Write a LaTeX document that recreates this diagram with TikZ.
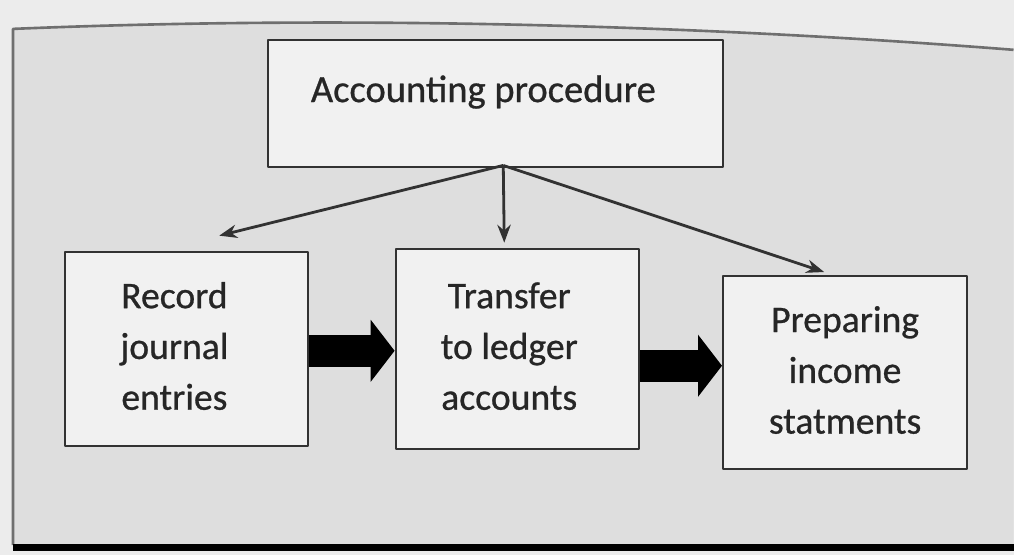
\documentclass[tikz,border=0pt]{standalone}
\usepackage{fontspec}
\setmainfont{Carlito}[FakeBold=0.7]
\usetikzlibrary{arrows.meta,calc}
\definecolor{pagegray}{RGB}{222,222,222}
\definecolor{papergray}{RGB}{236,236,236}
\definecolor{boxwhite}{RGB}{241,241,241}
\definecolor{edgegray}{RGB}{50,50,50}
\newcommand{\boxlines}[2]{\begin{tabular}{@{}c@{}}#1\end{tabular}\hspace*{#2}}

\begin{document}
\begin{tikzpicture}[x=0.02cm,y=-0.02cm,>=Stealth,line join=round,
  procbox/.style={draw=edgegray,line width=1.2pt,fill=boxwhite,
    inner sep=0pt,text=black!85,font=\fontsize{21.5}{29}\selectfont},
  fanarrow/.style={->,draw=edgegray,line width=1.6pt},
  blockarrow/.style={-{Triangle[length=0.48cm,width=1.22cm]},
    line width=0.64cm,black}]
 % paper and frame
 \fill[papergray] (0,0) rectangle (1017,557);
 \fill[pagegray]
  (13,29) .. controls (350,15) and (700,25) .. (1017,50)
  -- (1017,547) -- (13,547) -- cycle;
 \draw[edgegray!70,line width=1.5pt]
  (1017,50) .. controls (700,25) and (350,15) .. (13,29) -- (13,547);
 \draw[black,line width=4pt] (13,549) -- (1017,549);
 % boxes
 \node[procbox,minimum width=9.14cm,minimum height=2.55cm,
  font=\fontsize{22}{29}\selectfont]
  (top) at (497,104) {\raisebox{0.6cm}{Accounting procedure}\hspace*{0.48cm}};
 \node[procbox,minimum width=4.88cm,minimum height=3.9cm]
  (rec) at (187,350) {\boxlines{Record\\journal\\entries}{0.48cm}};
 \node[procbox,minimum width=4.88cm,minimum height=4.02cm]
  (tra) at (519,350) {\boxlines{Transfer\\to ledger\\accounts}{0.32cm}};
 \node[procbox,minimum width=4.9cm,minimum height=3.88cm]
  (pre) at (848,374) {\boxlines{Preparing\\income\\statments}{0cm}};
 % fan from the top box
 \coordinate (fork) at (505,166);
 \draw[fanarrow] (fork) -- ([shift={(33,-15)}]rec.north);
 \draw[fanarrow] (fork) -- ([shift={(-13,-5)}]tra.north);
 \draw[fanarrow] (fork) -- ([shift={(-21,-3)}]pre.north);
 % block arrows
 \draw[blockarrow] ([shift={(0,2)}]rec.east) -- ([shift={(0,2)}]tra.west);
 \draw[blockarrow] ([shift={(0,17)}]tra.east) -- ([shift={(0,-7)}]pre.west);
\end{tikzpicture}
\end{document}
